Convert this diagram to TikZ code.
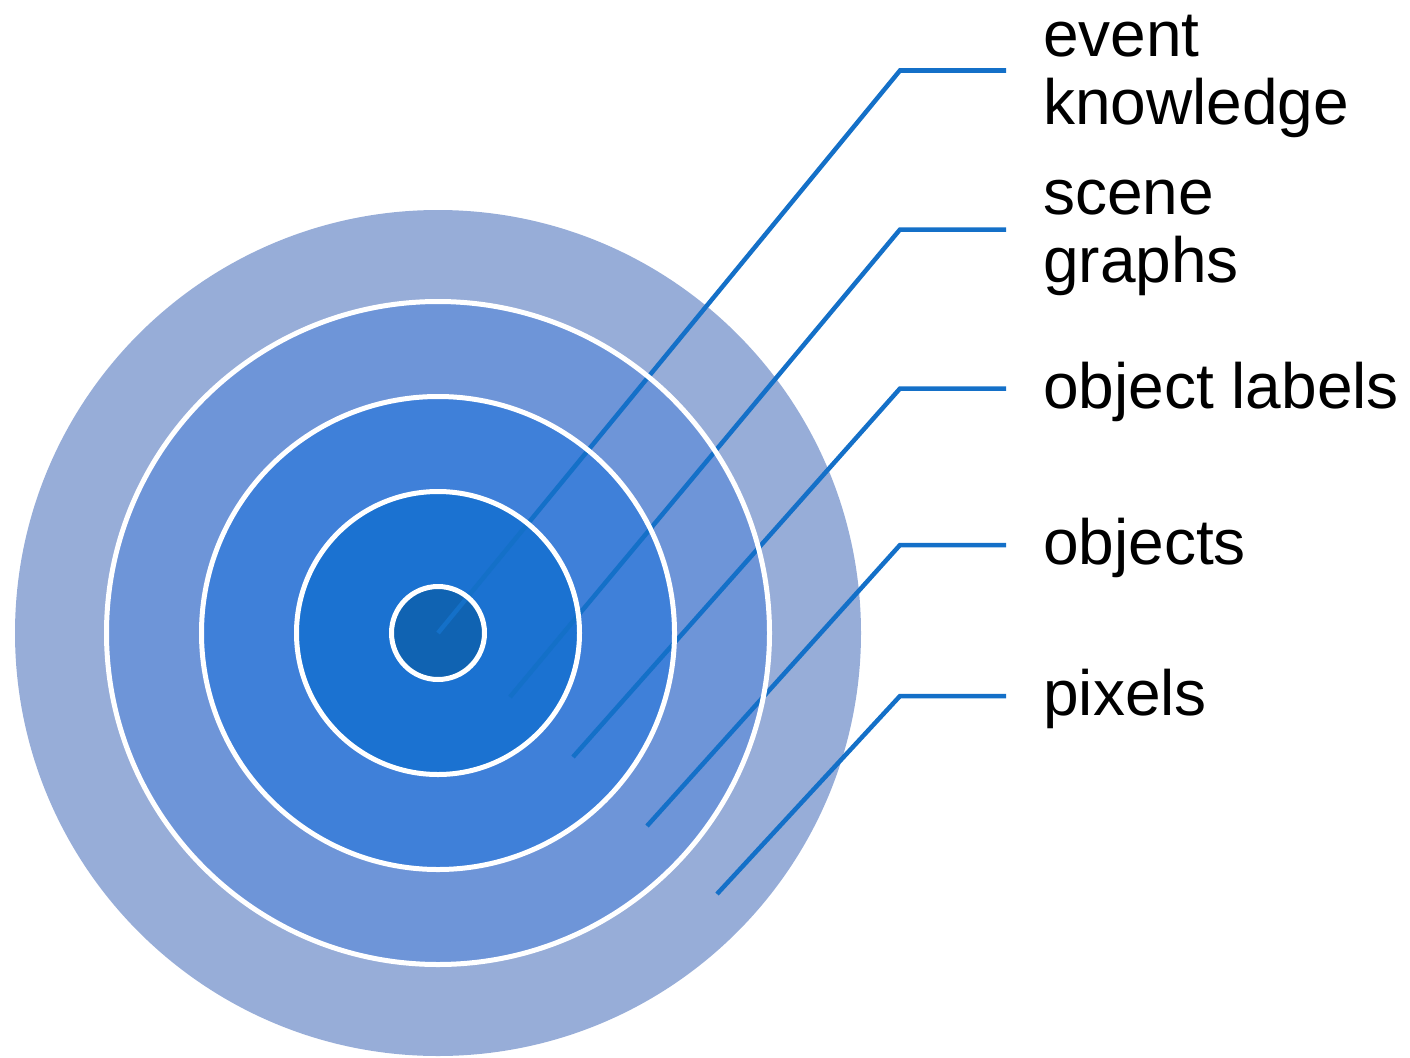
\documentclass[tikz,border=0pt]{standalone}
\usepackage{fontspec}
\setmainfont{Liberation Sans}
\definecolor{ringA}{RGB}{151,173,216}
\definecolor{ringB}{RGB}{110,149,216}
\definecolor{ringC}{RGB}{63,128,217}
\definecolor{ringD}{RGB}{27,114,209}
\definecolor{ringE}{RGB}{16,99,178}
\definecolor{leader}{RGB}{20,112,200}
\begin{document}
\begin{tikzpicture}[x=1pt,y=-1pt,
  ringedge/.style={draw=white,line width=5pt},
  leaderline/.style={draw=leader,line width=4.5pt,line cap=butt,line join=miter},
  tag/.style={anchor=base west,inner sep=0pt,align=left,
    font=\fontsize{64}{68}\selectfont}]
\useasboundingbox (0,0) rectangle (1410,1057);

% filled discs, largest first
\fill[ringA] (438,633) circle[radius=423];
\fill[ringB] (438,633) circle[radius=331.5];
\fill[ringC] (438,633) circle[radius=236.5];
\fill[ringD] (438,633) circle[radius=141.5];
\fill[ringE] (438,633) circle[radius=46.5];

% leader start points
\coordinate (s1) at (438,633);
\coordinate (s2) at (510,697);
\coordinate (s3) at (573,757);
\coordinate (s4) at (647,826);
\coordinate (s5) at (717,894);
% elbows and ends
\coordinate (k1) at (900,70.5);
\coordinate (k2) at (900,229.5);
\coordinate (k3) at (900,388.5);
\coordinate (k4) at (900,545);
\coordinate (k5) at (900,696);
\coordinate (e1) at (1006,70.5);
\coordinate (e2) at (1006,229.5);
\coordinate (e3) at (1006,388.5);
\coordinate (e4) at (1006,545);
\coordinate (e5) at (1006,696);

\draw[leaderline] (s1) -- (k1) -- (e1);
\draw[leaderline] (s2) -- (k2) -- (e2);
\draw[leaderline] (s3) -- (k3) -- (e3);
\draw[leaderline] (s4) -- (k4) -- (e4);
\draw[leaderline] (s5) -- (k5) -- (e5);

% white ring outlines on top
\draw[ringedge] (438,633) circle[radius=331.5];
\draw[ringedge] (438,633) circle[radius=236.5];
\draw[ringedge] (438,633) circle[radius=141.5];
\draw[ringedge] (438,633) circle[radius=46.5];

% labels (base anchor sits on the last line)
\node[tag] (t1) at (1043,124) {event\\knowledge};
\node[tag] (t2) at (1043,282) {scene\\graphs};
\node[tag] (t3) at (1043,408) {object labels};
\node[tag] (t4) at (1043,564) {objects};
\node[tag] (t5) at (1043,715) {pixels};
\end{tikzpicture}
\end{document}
